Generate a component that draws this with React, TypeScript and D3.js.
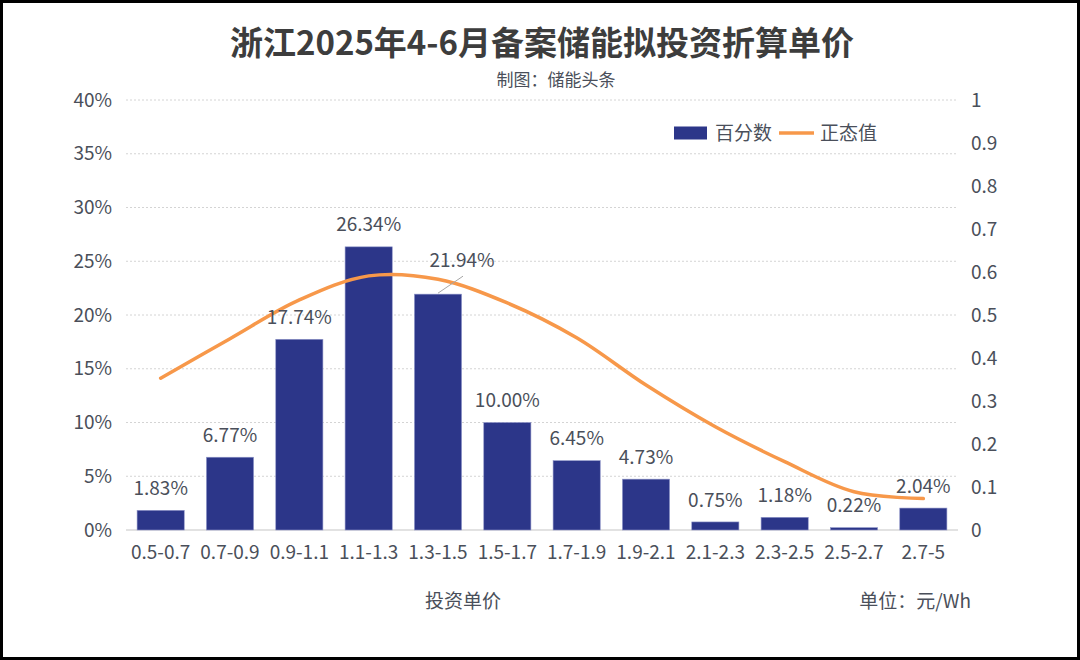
import * as d3 from 'd3';

// ranges of investment unit price (元/Wh)
const categories = ['0.5-0.7', '0.7-0.9', '0.9-1.1', '1.1-1.3', '1.3-1.5', '1.5-1.7', '1.7-1.9', '1.9-2.1', '2.1-2.3', '2.3-2.5', '2.5-2.7', '2.7-5'];
const percentValues = [1.83, 6.77, 17.74, 26.34, 21.94, 10.0, 6.45, 4.73, 0.75, 1.18, 0.22, 2.04];
const normalValues = [0.353, 0.445, 0.535, 0.591, 0.583, 0.528, 0.447, 0.337, 0.24, 0.159, 0.089, 0.073];
const leftTicks = [0, 5, 10, 15, 20, 25, 30, 35, 40];
const rightTicks = [0, 0.1, 0.2, 0.3, 0.4, 0.5, 0.6, 0.7, 0.8, 0.9, 1];

const W = 1080;
const H = 660;
const M = { left: 126, right: 122, top: 100, bottom: 130 };
const BAR = '#2c3689';
const ORANGE = '#f7984a';
const TEXT = '#4a4f5a';
const FONT = '"Noto Sans CJK SC", "Noto Sans", sans-serif';
const FS = 19;

export default function App() {
  const x = d3.scaleBand<string>().domain(categories).range([M.left, W - M.right]).paddingInner(0.32).paddingOuter(0.16);
  const yL = d3.scaleLinear().domain([0, 40]).range([H - M.bottom, M.top]);
  const yR = d3.scaleLinear().domain([0, 1]).range([H - M.bottom, M.top]);
  const cx = (c: string) => (x(c) ?? 0) + x.bandwidth() / 2;

  const linePath = d3.line<number>()
    .x((_, i) => cx(categories[i]))
    .y(d => yR(d))
    .curve(d3.curveCatmullRom.alpha(0.5))(normalValues) ?? '';

  // the 21.94% label was moved aside by the chart tool, with a leader line
  const labelShift = (i: number) => (i === 4 ? [24, -12] : [0, 0]);

  return (
    <svg width={W} height={H} style={{ position: 'absolute', left: 0, top: 0, background: '#fff' }} fontFamily={FONT}>
      <rect x={1.5} y={1.5} width={W - 3} height={H - 3} fill="#fff" stroke="#000" strokeWidth={3} />

      <text x={W / 2 + 2} y={55} textAnchor="middle" fontSize={33} fontWeight="bold" fill="#3d3d3d">浙江2025年4-6月备案储能拟投资折算单价</text>
      <text x={556} y={86} textAnchor="middle" fontSize={17} fill={TEXT}>制图：储能头条</text>

      {leftTicks.slice(1).map(t => (
        <line key={t} x1={M.left} x2={W - M.right} y1={yL(t)} y2={yL(t)} stroke="#d4d4d4" strokeDasharray="2,2" />
      ))}
      <line x1={M.left} x2={W - M.right} y1={yL(0)} y2={yL(0)} stroke="#d9d9d9" strokeWidth={1.5} />

      {leftTicks.map(t => (
        <text key={t} x={M.left - 14} y={yL(t)} dy="0.35em" textAnchor="end" fontSize={FS} fill={TEXT}>{t}%</text>
      ))}
      {rightTicks.map(t => (
        <text key={t} x={W - M.right + 13} y={yR(t)} dy="0.35em" fontSize={FS} fill={TEXT}>{d3.format('~g')(t)}</text>
      ))}

      {categories.map((c, i) => (
        <rect key={c} x={x(c)} y={yL(percentValues[i])} width={x.bandwidth()} height={yL(0) - yL(percentValues[i])} fill={BAR} stroke="#8f95c8" strokeWidth={0.6} />
      ))}

      <path d={linePath} fill="none" stroke={ORANGE} strokeWidth={3.5} strokeLinecap="round" />

      {categories.map((c, i) => {
        const [dx, dy] = labelShift(i);
        const top = yL(percentValues[i]);
        return (
          <g key={c}>
            {dx !== 0 && (
              <line x1={cx(c)} y1={top - 1} x2={cx(c) + 25} y2={top - 18} stroke="#a6a6a6" />
            )}
            <text x={cx(c) + dx} y={top - 22 + dy} dy="0.35em" textAnchor="middle" fontSize={FS} fill={TEXT}>
              {percentValues[i].toFixed(2)}%
            </text>
          </g>
        );
      })}

      {categories.map(c => (
        <text key={c} x={cx(c)} y={yL(0) + 22} dy="0.35em" textAnchor="middle" fontSize={FS} fill={TEXT}>{c}</text>
      ))}

      <text x={463} y={601} dy="0.35em" textAnchor="middle" fontSize={FS} fill={TEXT}>投资单价</text>
      <text x={971} y={601} dy="0.35em" textAnchor="end" fontSize={FS} fill={TEXT}>单位：元/Wh</text>

      <g transform="translate(674,133)">
        <rect x={0} y={-6.5} width={33} height={13} fill={BAR} />
        <text x={41} y={0} dy="0.35em" fontSize={FS} fill={TEXT}>百分数</text>
        <line x1={105} x2={140} y1={0} y2={0} stroke={ORANGE} strokeWidth={3.5} />
        <text x={146} y={0} dy="0.35em" fontSize={FS} fill={TEXT}>正态值</text>
      </g>
    </svg>
  );
}
